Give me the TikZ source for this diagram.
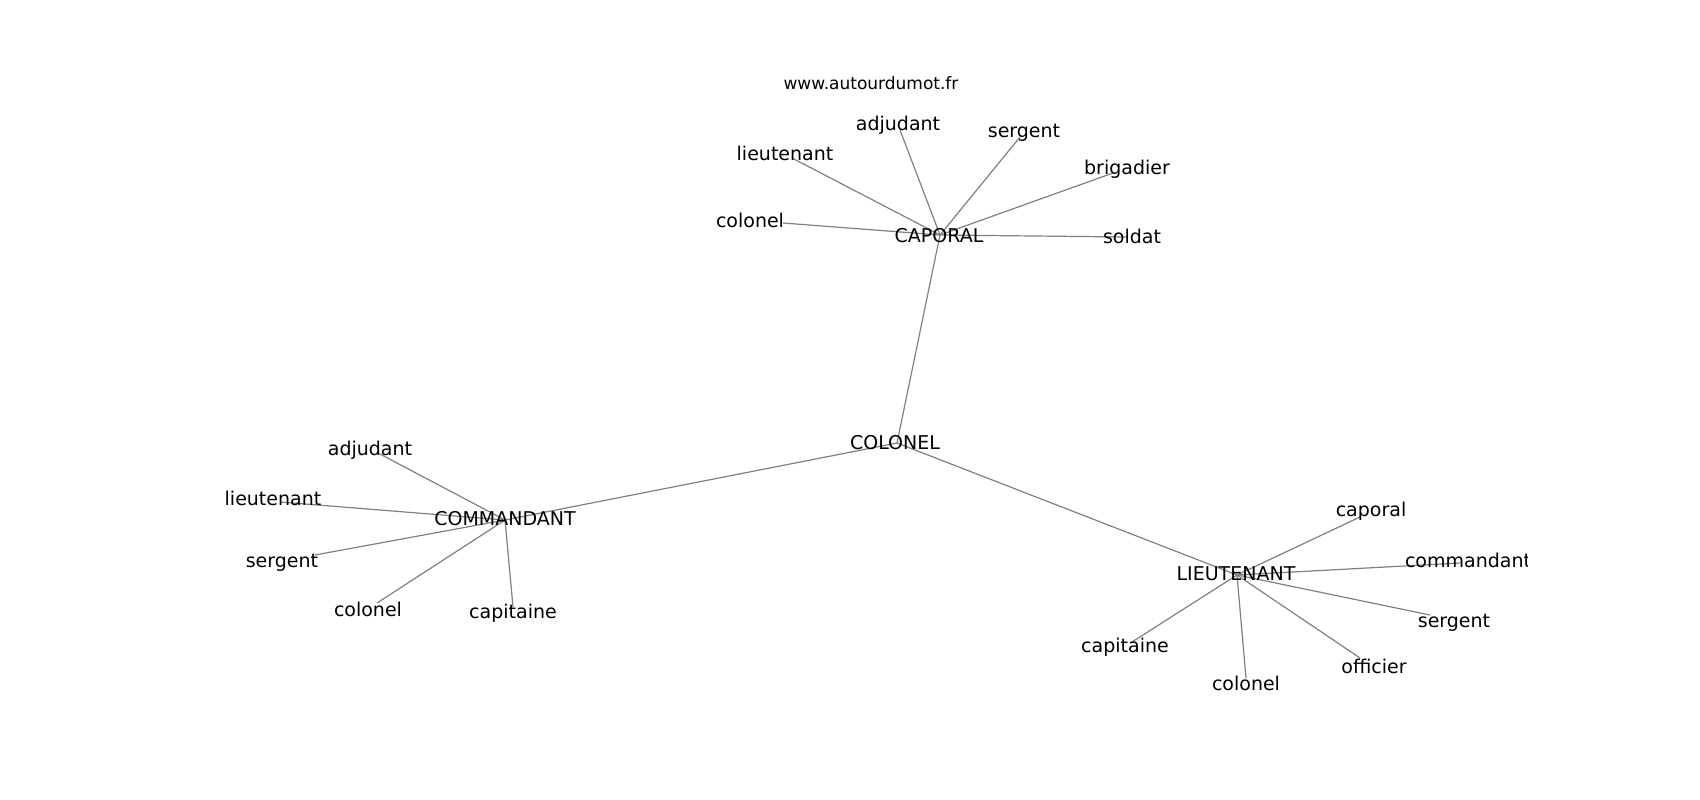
\documentclass[tikz,border=0pt]{standalone}
\usepackage{fontspec}
\setmainfont{DejaVu Sans}
\begin{document}
\begin{tikzpicture}[x=1pt,y=-1pt,
  edge/.style={draw=gray,line width=1.2pt},
  lbl/.style={inner sep=0pt,text height=0.73em,text depth=0pt,anchor=center,yshift=-4pt,font=\fontsize{19}{22}\selectfont},
  ttl/.style={inner sep=0pt,text height=0.73em,text depth=0pt,anchor=center,yshift=-4pt,font=\fontsize{17}{20}\selectfont}]
\useasboundingbox (0,0) rectangle (1700,800);
% hubs
\coordinate (hCap) at (940,235);
\coordinate (hCol) at (897,443);
\coordinate (hCom) at (505,520);
\coordinate (hLie) at (1237,575);
% edge ends - CAPORAL
\coordinate (eA1) at (900,130);
\coordinate (eA2) at (1020,137);
\coordinate (eA3) at (792,158);
\coordinate (eA4) at (783,223);
\coordinate (eA5) at (1113,173);
\coordinate (eA6) at (1127,237);
% edge ends - COMMANDANT
\coordinate (eB1) at (378,453);
\coordinate (eB2) at (280,502);
\coordinate (eB3) at (315,555);
\coordinate (eB4) at (377,603);
\coordinate (eB5) at (513,607);
% edge ends - LIEUTENANT
\coordinate (eC1) at (1360,517);
\coordinate (eC2) at (1460,563);
\coordinate (eC3) at (1430,615);
\coordinate (eC4) at (1360,658);
\coordinate (eC5) at (1246,678);
\coordinate (eC6) at (1132,642);
% edges
\draw[edge] (hCap) -- (hCol);
\draw[edge] (hCom) -- (hCol);
\draw[edge] (hLie) -- (hCol);
\foreach \e in {eA1,eA2,eA3,eA4,eA5,eA6} \draw[edge] (hCap) -- (\e);
\foreach \e in {eB1,eB2,eB3,eB4,eB5} \draw[edge] (hCom) -- (\e);
\foreach \e in {eC1,eC2,eC3,eC4,eC5,eC6} \draw[edge] (hLie) -- (\e);
% labels
\node[ttl] (title) at (871,82) {www.autourdumot.fr};
\node[lbl] (nCap) at (939,235) {CAPORAL};
\node[lbl] (nCol) at (895,442) {COLONEL};
\node[lbl] (nCom) at (505,518) {COMMANDANT};
\node[lbl] (nLie) at (1236,573) {LIEUTENANT};
\node[lbl] (a1) at (898,123) {adjudant};
\node[lbl] (a2) at (1024,130) {sergent};
\node[lbl] (a3) at (785,153) {lieutenant};
\node[lbl] (a4) at (750,220) {colonel};
\node[lbl] (a5) at (1127,167) {brigadier};
\node[lbl] (a6) at (1132,236) {soldat};
\node[lbl] (b1) at (370,448) {adjudant};
\node[lbl] (b2) at (273,498) {lieutenant};
\node[lbl] (b3) at (282,560) {sergent};
\node[lbl] (b4) at (368,609) {colonel};
\node[lbl] (b5) at (513,611) {capitaine};
\node[lbl] (c1) at (1371,509) {caporal};
\begin{scope}
\clip (0,0) rectangle (1527,800);
\node[lbl] (c2) at (1468,560) {commandant};
\end{scope}
\node[lbl] (c3) at (1454,620) {sergent};
\node[lbl] (c4) at (1374,666) {officier};
\node[lbl] (c5) at (1246,683) {colonel};
\node[lbl] (c6) at (1125,645) {capitaine};
\end{tikzpicture}
\end{document}
